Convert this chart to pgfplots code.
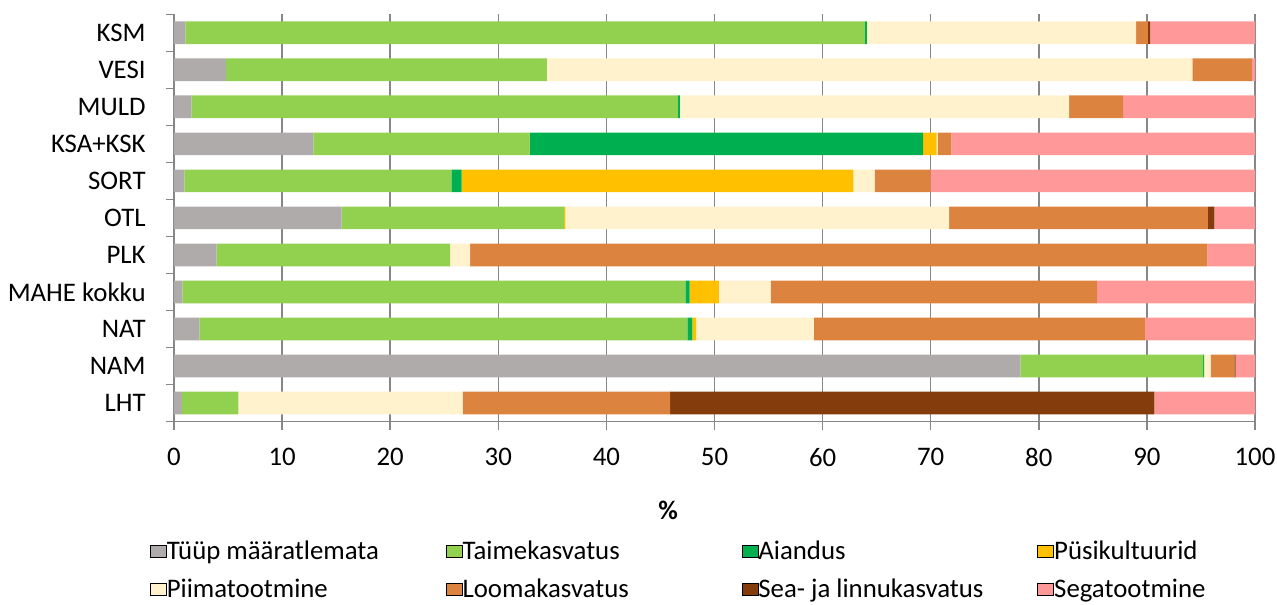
\documentclass[border=0pt]{standalone}
\usepackage{fontspec}
\setmainfont{Carlito}
\usepackage{pgfplots}
\pgfplotsset{compat=1.18}
\definecolor{axisgray}{HTML}{878787}
\definecolor{cGray}{HTML}{AFABAB}
\definecolor{cTaim}{HTML}{92D050}
\definecolor{cAia}{HTML}{00B050}
\definecolor{cPysi}{HTML}{FFC000}
\definecolor{cPiim}{HTML}{FFF2CC}
\definecolor{cLoom}{HTML}{DC843F}
\definecolor{cSea}{HTML}{843C0C}
\definecolor{cSeg}{HTML}{FF9999}
\pgfplotsset{xbar legend/.style={legend image code/.code={\fill[##1,draw=none] (0pt,-3.75pt) rectangle (7.5pt,3.75pt); \path (13pt,0pt);}}}
\newcommand{\fs}{\fontsize{13.4}{16}\selectfont}
\begin{document}
\begin{tikzpicture}
\useasboundingbox (-87pt,-91.25pt) rectangle (551.5pt,210.75pt);
\begin{axis}[
  at={(0pt,0pt)}, anchor=south west,
  scale only axis, width=540.5pt, height=203.6pt,
  xbar stacked, bar width=11.35pt,
  xmin=0, xmax=100, ymin=-0.5, ymax=10.5,
  axis lines*=left,
  axis line style={draw=axisgray, line width=0.75pt},
  xtick={0,10,...,100},
  xmajorgrids, grid style={draw=axisgray, line width=0.75pt},
  ytick={0,...,10},
  yticklabels={LHT,NAM,NAT,MAHE kokku,PLK,OTL,SORT,KSA+KSK,MULD,VESI,KSM},
  minor ytick={-0.5,0.5,...,10.5},
  tick align=outside, major tick length=4pt, minor tick length=4pt,
  major y tick style={draw=none},
  tick style={draw=axisgray, line width=0.75pt},
  /pgf/number format/assume math mode=true,
  every tick label/.append style={font=\fs},
  xticklabel style={anchor=north, inner sep=0pt, yshift=-9.25pt},
  yticklabel style={anchor=east, inner sep=0pt, xshift=-10pt},
  xlabel={\textbf{\%}},
  every axis x label/.style={at={(axis description cs:0.457,0)}, anchor=center, yshift=-44.25pt, font=\fs},
  legend columns=4,
  legend style={at={(axis description cs:0,0)}, anchor=north west, draw=none, fill=none,
    inner sep=0pt, outer sep=0pt, column sep=0pt, row sep=7pt, font=\fs,
    nodes={inner sep=0pt, text height=9pt, text depth=3pt},
    xshift=-12pt, yshift=-60pt},
]
\addplot[fill=cGray, draw=none] coordinates {(0.74,0) (78.3,1) (2.35,2) (0.77,3) (3.95,4) (15.5,5) (0.95,6) (12.9,7) (1.6,8) (4.8,9) (1.05,10)};
\addlegendentry{\makebox[139.5pt][l]{Tüüp määratlemata}}
\addplot[fill=cTaim, draw=none] coordinates {(5.22,0) (16.9,1) (45.15,2) (46.53,3) (21.6,4) (20.6,5) (24.7,6) (20.0,7) (45.0,8) (29.7,9) (62.85,10)};
\addlegendentry{\makebox[139.5pt][l]{Taimekasvatus}}
\addplot[fill=cAia, draw=none] coordinates {(0,0) (0.1,1) (0.45,2) (0.4,3) (0,4) (0,5) (0.95,6) (36.4,7) (0.2,8) (0,9) (0.2,10)};
\addlegendentry{\makebox[139.5pt][l]{Aiandus}}
\addplot[fill=cPysi, draw=none] coordinates {(0,0) (0,1) (0.35,2) (2.7,3) (0,4) (0.1,5) (36.25,6) (1.25,7) (0,8) (0,9) (0,10)};
\addlegendentry{\makebox[139.5pt][l]{Püsikultuurid}}
\addplot[fill=cPiim, draw=none] coordinates {(20.74,0) (0.6,1) (10.9,2) (4.8,3) (1.85,4) (35.5,5) (1.95,6) (0.1,7) (36.0,8) (59.7,9) (24.9,10)};
\addlegendentry{\makebox[139.5pt][l]{Piimatootmine}}
\addplot[fill=cLoom, draw=none] coordinates {(19.2,0) (2.2,1) (30.6,2) (30.2,3) (68.2,4) (23.95,5) (5.2,6) (1.25,7) (5.0,8) (5.5,9) (1.1,10)};
\addlegendentry{\makebox[139.5pt][l]{Loomakasvatus}}
\addplot[fill=cSea, draw=none] coordinates {(44.8,0) (0.1,1) (0,2) (0,3) (0,4) (0.6,5) (0,6) (0,7) (0,8) (0,9) (0.2,10)};
\addlegendentry{\makebox[139.5pt][l]{Sea- ja linnukasvatus}}
\addplot[fill=cSeg, draw=none] coordinates {(9.3,0) (1.8,1) (10.2,2) (14.6,3) (4.4,4) (3.75,5) (30.0,6) (28.1,7) (12.2,8) (0.3,9) (9.7,10)};
\addlegendentry{\makebox[139.5pt][l]{Segatootmine}}
\end{axis}
\end{tikzpicture}
\end{document}
